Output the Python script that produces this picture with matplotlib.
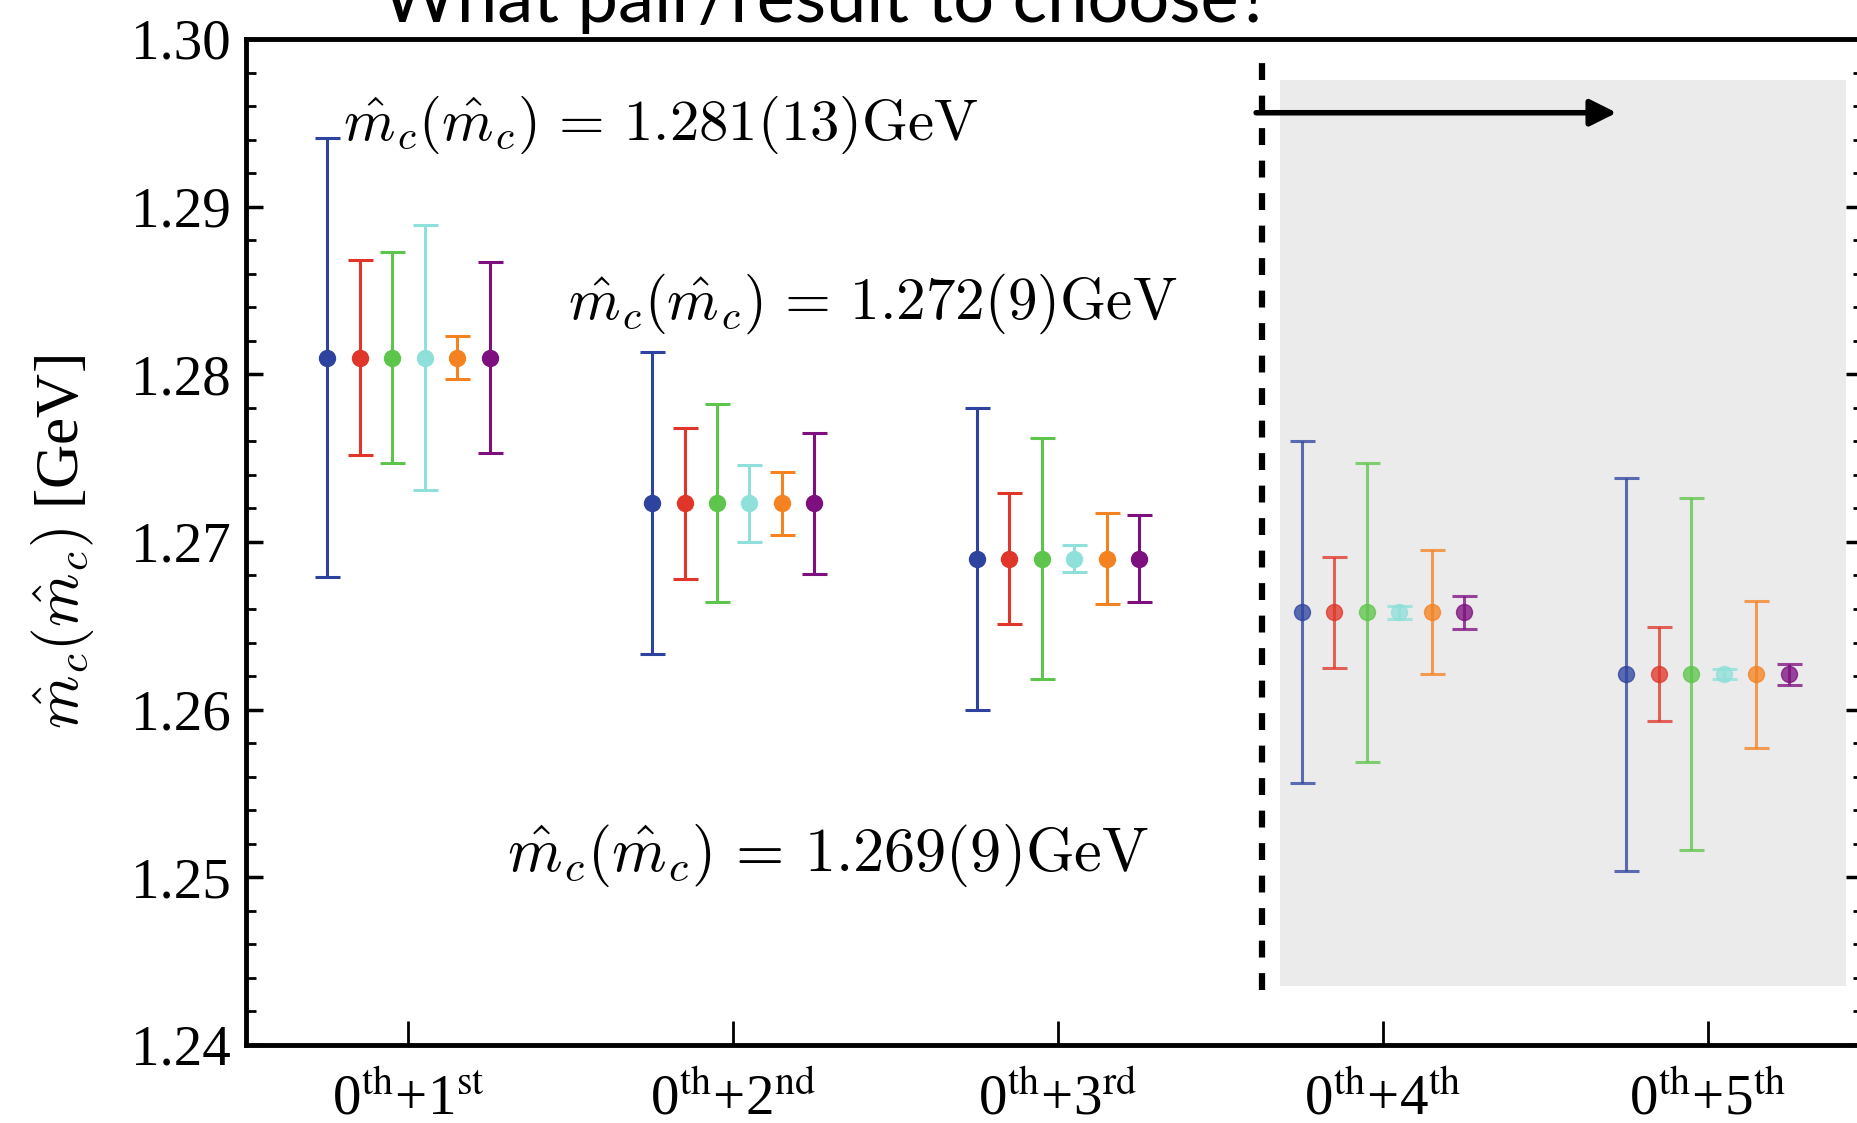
import matplotlib
matplotlib.use("Agg")
import matplotlib.pyplot as plt
from matplotlib.ticker import MultipleLocator, FormatStrFormatter

# ---- data ----
pairs = [r"0$^{\mathrm{th}}$+1$^{\mathrm{st}}$",
         r"0$^{\mathrm{th}}$+2$^{\mathrm{nd}}$",
         r"0$^{\mathrm{th}}$+3$^{\mathrm{rd}}$",
         r"0$^{\mathrm{th}}$+4$^{\mathrm{th}}$",
         r"0$^{\mathrm{th}}$+5$^{\mathrm{th}}$"]
central = [1.2810, 1.2723, 1.2690, 1.2658, 1.2621]

err_blue   = [0.0131, 0.0090, 0.0090, 0.0102, 0.0117]
err_red    = [0.0058, 0.0045, 0.0039, 0.0033, 0.0028]
err_green  = [0.0063, 0.0059, 0.0072, 0.0089, 0.0105]
err_cyan   = [0.0079, 0.0023, 0.0008, 0.0004, 0.0003]
err_orange = [0.0013, 0.0019, 0.0027, 0.0037, 0.0044]
err_purple = [0.0057, 0.0042, 0.0026, 0.0010, 0.00065]

results = [r"$\hat{m}_c(\hat{m}_c)\,=\,1.281(13)\mathrm{GeV}$",
           r"$\hat{m}_c(\hat{m}_c)\,=\,1.272(9)\mathrm{GeV}$",
           r"$\hat{m}_c(\hat{m}_c)\,=\,1.269(9)\mathrm{GeV}$"]

series = [
    (err_blue,   "#2E43A0"),
    (err_red,    "#E0362A"),
    (err_green,  "#5DC54B"),
    (err_cyan,   "#8FE0DA"),
    (err_orange, "#F58220"),
    (err_purple, "#7D0F7F"),
]

SERIF = "Liberation Serif"

fig = plt.figure(figsize=(18.57, 11.23), dpi=100)
ax = fig.add_axes([0.1325, 0.0695, 0.871, 0.8958])

# shaded "preferred" region + divider + arrow
ax.axvspan(3.684, 5.426, ymin=(1.24352 - 1.24) / 0.06, ymax=(1.29757 - 1.24) / 0.06,
           color="#EBEBEB", lw=0, zorder=0)
ax.plot([3.629, 3.629], [1.2433, 1.2990], color="black", lw=4.5,
        ls=(0, (2.7, 2.5)), zorder=1)
ax.annotate("", xy=(4.72, 1.2956), xytext=(3.61, 1.2956),
            arrowprops=dict(arrowstyle="-|>", color="black", lw=4,
                            mutation_scale=40, shrinkA=0, shrinkB=0))

offsets = [-0.25, -0.15, -0.05, 0.05, 0.15, 0.25]
for g, mc in enumerate(central):
    alpha = 1.0 if g < 3 else 0.77
    for (errs, col), off in zip(series, offsets):
        ax.errorbar(g + 1 + off, mc, yerr=errs[g], fmt="o", color=col,
                    ms=11.5, elinewidth=2.2, capsize=9, capthick=2.2,
                    alpha=alpha, zorder=3)

# result annotations
ax.text(0.798, 1.2940, results[0], fontsize=42.3, math_fontfamily="cm", va="baseline")
ax.text(1.492, 1.2833, results[1], fontsize=42.5, math_fontfamily="cm", va="baseline")
ax.text(1.302, 1.2504, results[2], fontsize=44.8, math_fontfamily="cm", va="baseline")

# axes styling
ax.set_xlim(0.5, 5.48)
ax.set_ylim(1.24, 1.30)
ax.set_xticks(range(1, 6))
ax.set_xticklabels(pairs, fontsize=41, family=SERIF, math_fontfamily="stix")
ax.yaxis.set_major_locator(MultipleLocator(0.01))
ax.yaxis.set_minor_locator(MultipleLocator(0.002))
ax.yaxis.set_major_formatter(FormatStrFormatter("%.2f"))
for lab in ax.get_yticklabels():
    lab.set_family(SERIF)
    lab.set_fontsize(41)

ax.tick_params(axis="x", direction="in", length=17, width=2, pad=20)
ax.tick_params(axis="y", which="major", direction="in", length=12, width=2.5,
               pad=11, right=True)
ax.tick_params(axis="y", which="minor", direction="in", length=7, width=2,
               right=True)
for sp in ax.spines.values():
    sp.set_linewidth(3.5)

ax.set_ylabel(r"$\hat{m}_c(\hat{m}_c)$ [GeV]", fontsize=44, family=SERIF,
              math_fontfamily="cm", labelpad=25)

fig.text(0.4453, 0.9807, "What pair/result to choose?", fontsize=52,
         family="Lato", ha="center", va="baseline")

fig.savefig("out.png", dpi=100)
